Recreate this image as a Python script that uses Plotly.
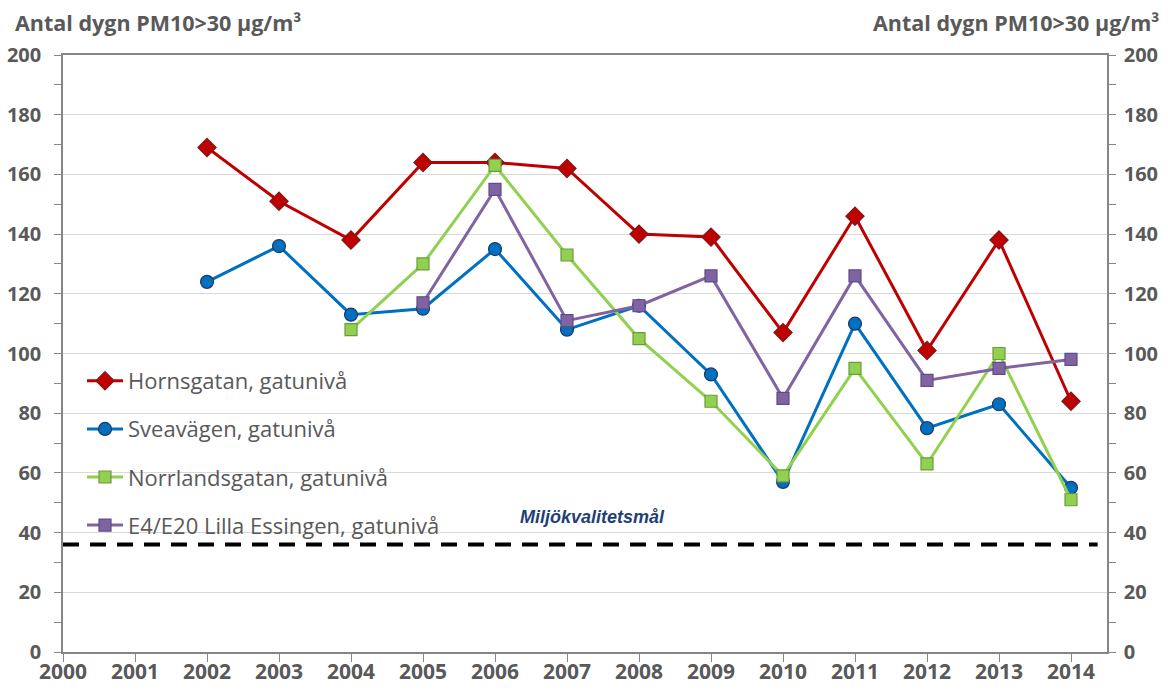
import plotly.graph_objects as go

years = list(range(2000, 2015))
horns_years = [2002, 2003, 2004, 2005, 2006, 2007, 2008, 2009, 2010, 2011, 2012, 2013, 2014]
horns = [169, 151, 138, 164, 164, 162, 140, 139, 107, 146, 101, 138, 84]
svea_years = [2002, 2003, 2004, 2005, 2006, 2007, 2008, 2009, 2010, 2011, 2012, 2013, 2014]
svea = [124, 136, 113, 115, 135, 108, 116, 93, 57, 110, 75, 83, 55]
norr_years = [2004, 2005, 2006, 2007, 2008, 2009, 2010, 2011, 2012, 2013, 2014]
norr = [108, 130, 163, 133, 105, 84, 59, 95, 63, 100, 51]
e4_years = [2005, 2006, 2007, 2008, 2009, 2010, 2011, 2012, 2013, 2014]
e4 = [117, 155, 111, 116, 126, 85, 126, 91, 95, 98]
target_value = 36
target_label = "Miljökvalitetsmål"
axis_title = "Antal dygn PM10>30 µg/m³"

x_range = [2000, 2014.5]
y_range = [0, 200]

GREY = "#595959"
FONT = "Open Sans"

fig = go.Figure()

series = [
    ("Hornsgatan, gatunivå", horns_years, horns, "#C00000", "#C00000", "#7A1A1A", "diamond", 14),
    ("Sveavägen, gatunivå", svea_years, svea, "#0070C0", "#0070C0", "#1F3864", "circle", 13),
    ("Norrlandsgatan, gatunivå", norr_years, norr, "#92D050", "#92D050", "#6E9A3C", "square", 12),
    ("E4/E20 Lilla Essingen, gatunivå", e4_years, e4, "#8064A2", "#8064A2", "#5F4B8B", "square", 12),
]

for name, xs, ys, lc, mc, ec, sym, sz in series:
    fig.add_trace(go.Scatter(
        x=xs, y=ys, name=name, mode="lines+markers", legendgroup=name,
        line=dict(color=lc, width=3),
        marker=dict(symbol=sym, size=sz, color=mc, line=dict(color=ec, width=1.2)),
    ))

fig.add_trace(go.Scatter(
    x=[x_range[0], x_range[1] - 0.13], y=[target_value, target_value],
    mode="lines", showlegend=False, hoverinfo="skip", yaxis="y2",
    line=dict(color="black", width=4, dash="16px,11px"),
))

# white background behind the legend (covers gridlines, below traces)
fig.add_shape(
    type="rect", xref="paper", yref="paper",
    x0=0, x1=(465 - 63) / 1044, y0=(652 - 540) / 597, y1=(652 - 360) / 597,
    fillcolor="white", line=dict(width=0), layer="between",
)

fig.add_annotation(
    x=2007.35, y=45.2, xref="x", yref="y", text="<b><i>" + target_label + "</i></b>",
    showarrow=False, font=dict(family="Liberation Sans", size=18, color="#1F3F77"),
)

fig.add_annotation(
    x=-0.048, y=(652 - 22) / 597, xref="paper", yref="paper", text="<b>" + axis_title + "</b>",
    showarrow=False, xanchor="left", yanchor="middle",
    font=dict(family=FONT, size=21.5, color=GREY),
)
fig.add_annotation(
    x=(1161 - 63) / 1044, y=(652 - 22) / 597, xref="paper", yref="paper", text="<b>" + axis_title + "</b>",
    showarrow=False, xanchor="right", yanchor="middle",
    font=dict(family=FONT, size=21.5, color=GREY),
)

yaxis_common = dict(
    range=y_range, tickvals=list(range(0, 201, 20)),
    ticks="outside", ticklen=7, tickcolor="#868686", tickwidth=1,
    minor=dict(tickvals=list(range(10, 200, 20)), ticks="outside", ticklen=7, tickcolor="#868686", showgrid=False),
    showline=True, linecolor="#868686", linewidth=1.5,
    tickfont=dict(family=FONT, size=20, color=GREY, weight="bold"),
    zeroline=False, fixedrange=True,
)

fig.update_layout(
    width=1168, height=694,
    margin=dict(l=63, r=61, t=55, b=42, autoexpand=False),
    paper_bgcolor="white", plot_bgcolor="white",
    font=dict(family=FONT, color=GREY),
    showlegend=True,
    legend=dict(
        x=(82 - 63) / 1044, y=(652 - 360) / 597, xanchor="left", yanchor="top",
        bgcolor="rgba(0,0,0,0)", borderwidth=0, tracegroupgap=16.5,
        font=dict(family=FONT, size=22, color=GREY),
        itemwidth=36,
    ),
    xaxis=dict(
        range=x_range, tickvals=years, ticktext=[str(y) for y in years],
        ticks="outside", ticklen=8, tickcolor="#868686",
        showline=True, linecolor="#868686", linewidth=1.5, mirror=True,
        showgrid=False, zeroline=False,
        tickfont=dict(family=FONT, size=21, color=GREY, weight="bold"),
        ticklabelstandoff=-8,
    ),
    yaxis=dict(**yaxis_common, side="left", showgrid=True, gridcolor="#D9D9D9", gridwidth=1,
               ticklabelstandoff=9),
    yaxis2=dict(**yaxis_common, side="right", overlaying="y", showgrid=False, ticklabelstandoff=4),
)

fig.write_html("out.html", config={"displayModeBar": False},
               post_script="document.body.style.margin='0';document.body.style.overflow='hidden';")
